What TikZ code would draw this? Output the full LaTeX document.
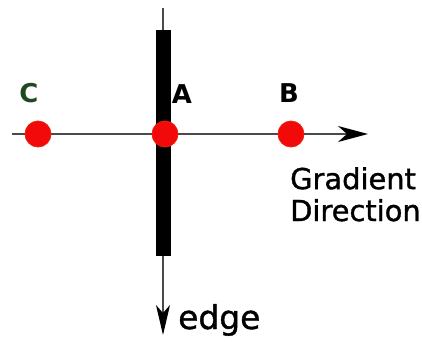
\documentclass[tikz,border=0pt]{standalone}
\usepackage{fontspec}
\setmainfont{DejaVu Sans}
\newfontfamily\heavyfont[FakeBold=1.2]{DejaVu Sans}
\usetikzlibrary{arrows.meta}
\definecolor{dotred}{HTML}{F20A0A}
\definecolor{labgreen}{HTML}{1E4A1E}
\definecolor{linegray}{HTML}{4A4A4A}
\begin{document}
\begin{tikzpicture}[x=1bp,y=-1bp,
  dot/.style={circle,fill=dotred,draw=dotred!85!orange,line width=0.8bp,minimum size=26bp,inner sep=0pt},
  lab/.style={font=\fontsize{26}{28}\selectfont\bfseries,inner sep=0pt},
  axis/.style={draw=linegray,line width=1.3bp},
  edgebar/.style={fill=black,minimum width=15bp,minimum height=226bp,inner sep=0pt},
  txt/.style={font=\heavyfont\fontsize{29}{32}\selectfont,inner sep=0pt,align=left}]
\useasboundingbox (0,0) rectangle (422,342);
\coordinate (hstart) at (12,134);
\coordinate (hend) at (368,134);
\coordinate (vtop) at (163,8);
\coordinate (vend) at (163,335);
\draw[axis,-{Stealth[length=30bp,width=16bp,inset=9bp,black]}] (hstart) -- (hend);
\draw[axis,-{Stealth[length=30bp,width=14bp,inset=8bp,black]}] (vtop) -- (vend);
\node[edgebar] (bar) at (163.5,143) {};
\node[dot] (C) at (38,134) {};
\node[dot] (A) at (165,134) {};
\node[dot] (B) at (291,134) {};
\node[lab,text=labgreen] (Clab) at (29,93) {C};
\node[lab] (Alab) at (182,94) {A};
\node[lab] (Blab) at (289,93) {B};
\node[txt,anchor=base west] (grad) at (290,221) {Gradient\\Direction};
\node[font=\heavyfont\fontsize{33}{36}\selectfont,inner sep=0pt,anchor=base west] (edge) at (178,329) {edge};
\end{tikzpicture}
\end{document}
